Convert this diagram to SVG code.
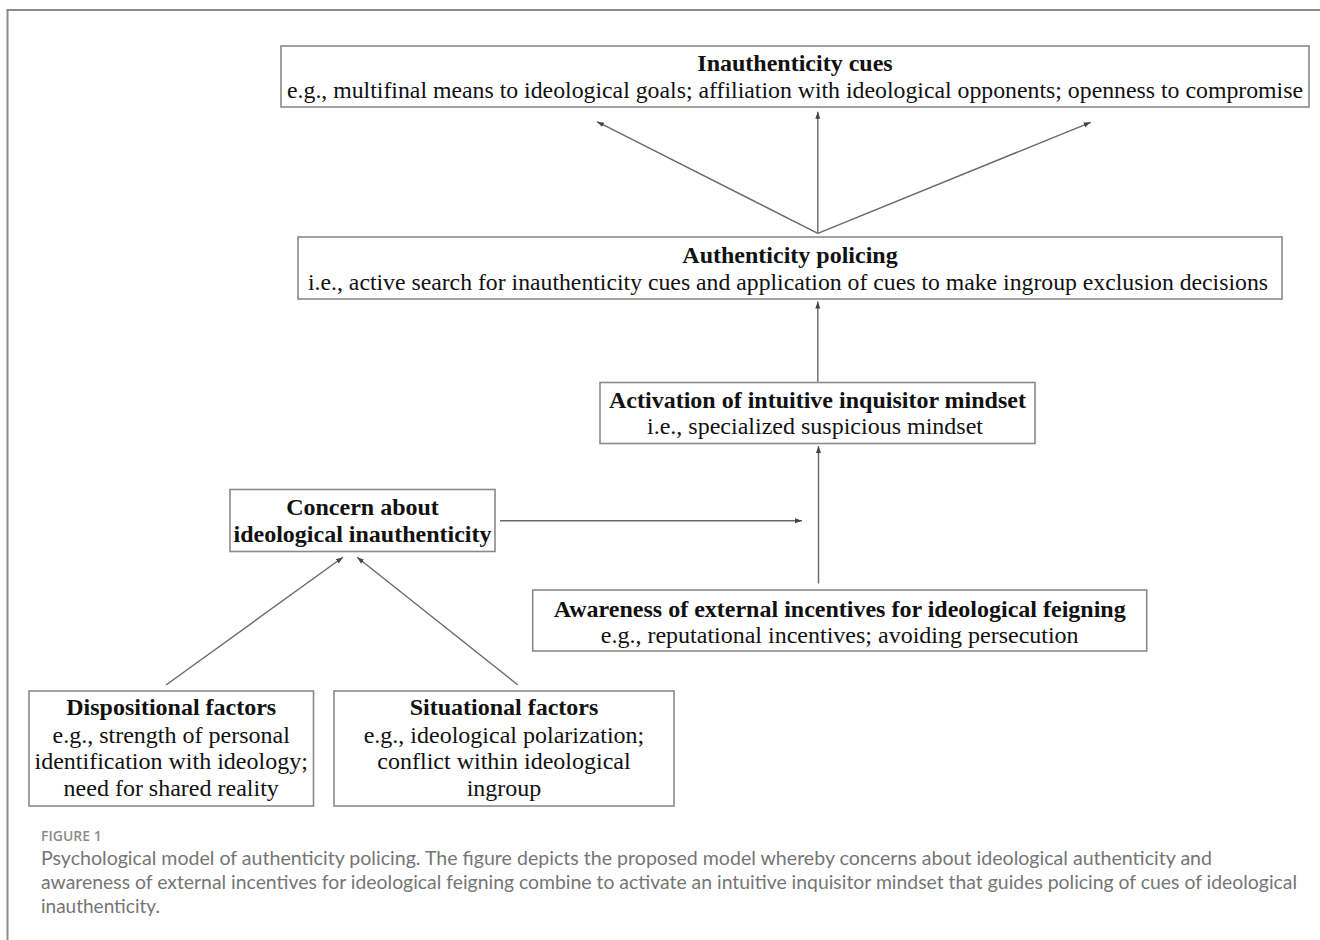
<svg xmlns="http://www.w3.org/2000/svg" width="1320" height="940" viewBox="0 0 1320 940">
<style>
  .box { fill: #ffffff; stroke: #8a8a8a; stroke-width: 1.6; }
  .t { font-family: "Liberation Serif", "Times New Roman", serif; font-size: 24px; fill: #111111; text-anchor: middle; }
  .b { font-weight: bold; }
  .conn { stroke: #6a6a6a; stroke-width: 1.4; fill: none; }
  .cap { font-family: "Lato", "Open Sans", "Liberation Sans", sans-serif; font-size: 19px; fill: #757575; }
  .fig { font-family: "Open Sans", "Lato", "Liberation Sans", sans-serif; font-size: 14px; font-weight: 600; fill: #8a8a8a; }
  .frame { stroke: #8c8c8c; stroke-width: 2; fill: none; }
</style>
<defs>
  <marker id="ah" markerUnits="userSpaceOnUse" markerWidth="8" markerHeight="8" viewBox="0 0 8 8" refX="7" refY="4" orient="auto">
    <path d="M0,1.5 L7,4 L0,6.5 z" fill="#444444"/>
  </marker>
</defs>
<rect x="0" y="0" width="1320" height="940" fill="#ffffff"/>
<path class="frame" d="M1320,10 L7.5,10 L7.5,940"/>

<g id="connectors">
  <line class="conn" x1="817.8" y1="233.3" x2="597" y2="121.7" marker-end="url(#ah)"/>
  <line class="conn" x1="817.8" y1="233.3" x2="817.8" y2="111.7" marker-end="url(#ah)"/>
  <line class="conn" x1="817.8" y1="233.3" x2="1090.7" y2="122.3" marker-end="url(#ah)"/>
  <line class="conn" x1="817.8" y1="382" x2="817.8" y2="301.5" marker-end="url(#ah)"/>
  <line class="conn" x1="818.5" y1="583.5" x2="818.5" y2="446" marker-end="url(#ah)"/>
  <line class="conn" x1="500" y1="520.7" x2="802" y2="520.7" marker-end="url(#ah)"/>
  <line class="conn" x1="166" y1="685" x2="342.9" y2="557.3" marker-end="url(#ah)"/>
  <line class="conn" x1="517.9" y1="685" x2="357.1" y2="557.3" marker-end="url(#ah)"/>
</g>

<g id="inauthenticity-cues">
  <rect class="box" x="281" y="46" width="1028" height="61"/>
  <text class="t b" x="795" y="71">Inauthenticity cues</text>
  <text class="t" x="795" y="97.5" textLength="1016" lengthAdjust="spacingAndGlyphs">e.g., multifinal means to ideological goals; affiliation with ideological opponents; openness to compromise</text>
</g>

<g id="authenticity-policing">
  <rect class="box" x="298" y="237" width="984" height="62"/>
  <text class="t b" x="790" y="263">Authenticity policing</text>
  <text class="t" x="788" y="290" textLength="960" lengthAdjust="spacingAndGlyphs">i.e., active search for inauthenticity cues and application of cues to make ingroup exclusion decisions</text>
</g>

<g id="inquisitor-mindset">
  <rect class="box" x="600" y="382.5" width="435" height="61"/>
  <text class="t b" x="817.5" y="407.7">Activation of intuitive inquisitor mindset</text>
  <text class="t" x="815" y="434.3">i.e., specialized suspicious mindset</text>
</g>

<g id="concern">
  <rect class="box" x="230" y="489.5" width="265" height="62"/>
  <text class="t b" x="362.5" y="515">Concern about</text>
  <text class="t b" x="362.5" y="542">ideological inauthenticity</text>
</g>

<g id="awareness">
  <rect class="box" x="532.7" y="590" width="614" height="61"/>
  <text class="t b" x="839.7" y="616.7">Awareness of external incentives for ideological feigning</text>
  <text class="t" x="839.7" y="643.3">e.g., reputational incentives; avoiding persecution</text>
</g>

<g id="dispositional">
  <rect class="box" x="29" y="691" width="284.5" height="115"/>
  <text class="t b" x="171.2" y="715">Dispositional factors</text>
  <text class="t" x="171.2" y="742.7">e.g., strength of personal</text>
  <text class="t" x="171.2" y="769.3">identification with ideology;</text>
  <text class="t" x="171.2" y="796">need for shared reality</text>
</g>

<g id="situational">
  <rect class="box" x="334" y="691" width="340" height="115"/>
  <text class="t b" x="504" y="715">Situational factors</text>
  <text class="t" x="504" y="742.7">e.g., ideological polarization;</text>
  <text class="t" x="504" y="769.3">conflict within ideological</text>
  <text class="t" x="504" y="796">ingroup</text>
</g>

<g id="caption">
  <text class="fig" x="41" y="840.7">FIGURE 1</text>
  <text class="cap" x="41" y="865" textLength="1171" lengthAdjust="spacingAndGlyphs">Psychological model of authenticity policing. The figure depicts the proposed model whereby concerns about ideological authenticity and</text>
  <text class="cap" x="41" y="889.3" textLength="1256" lengthAdjust="spacingAndGlyphs">awareness of external incentives for ideological feigning combine to activate an intuitive inquisitor mindset that guides policing of cues of ideological</text>
  <text class="cap" x="41" y="912.7">inauthenticity.</text>
</g>
</svg>
